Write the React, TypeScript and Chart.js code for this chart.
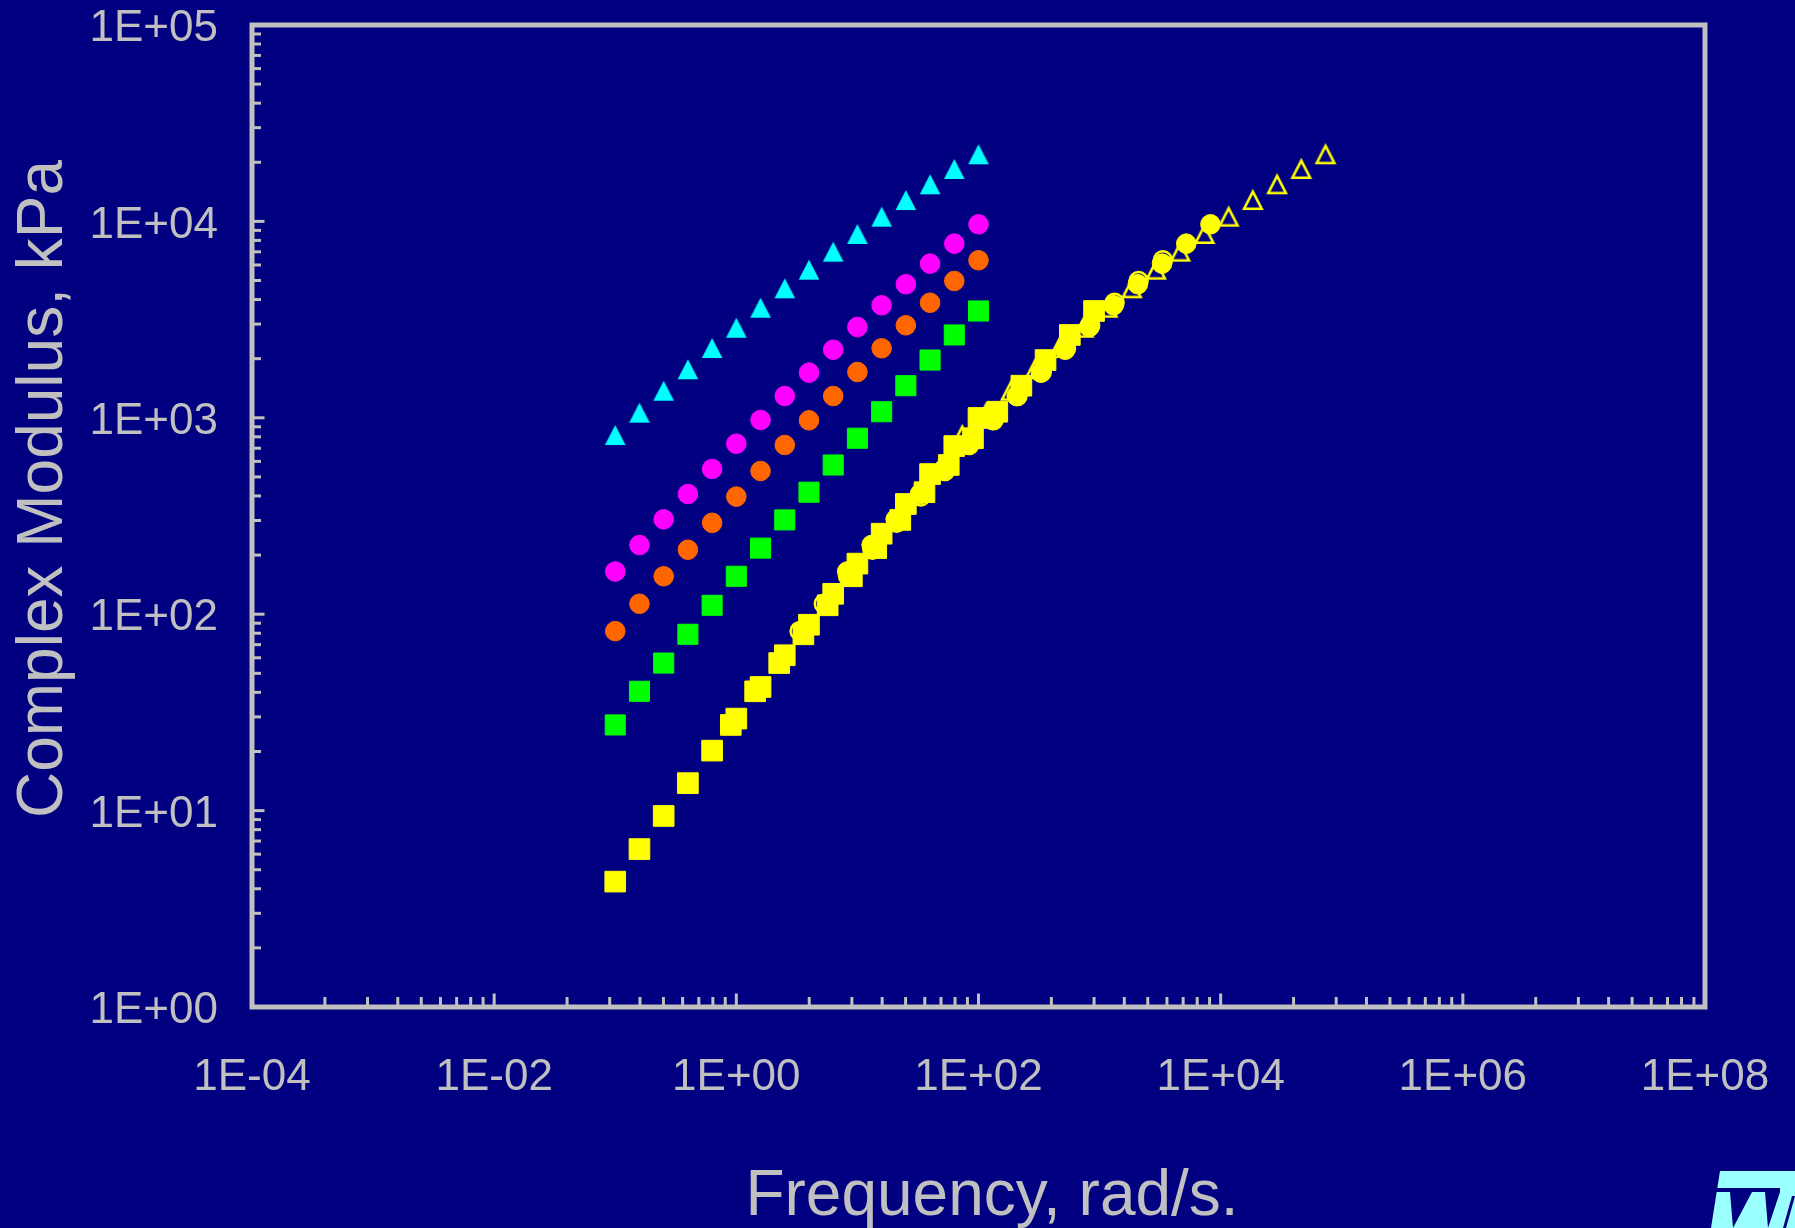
import React, { useEffect, useRef } from 'react';
import { Chart, registerables } from 'chart.js';

Chart.register(...registerables);

// ---- data ----
const FREQ = [0.1, 0.1585, 0.2512, 0.3981, 0.631, 1, 1.585, 2.512, 3.981, 6.31, 10, 15.85, 25.12, 39.81, 63.1, 100];

const CYAN_Y = [817, 1062, 1374, 1766, 2266, 2876, 3636, 4564, 5678, 7012, 8630, 10570, 12850, 15450, 18490, 21970];
const MAGENTA_Y = [165, 225, 304, 409, 549, 738, 975, 1291, 1698, 2222, 2899, 3740, 4786, 6093, 7705, 9663];
const ORANGE_Y = [82, 113, 156, 213, 292, 397, 536, 727, 971, 1291, 1711, 2259, 2958, 3855, 4974, 6340];
const GREEN_Y = [27.3, 40.5, 56.4, 79, 111, 156, 217, 302, 418, 575, 787, 1074, 1457, 1968, 2641, 3498];
const REF_Y = [4.35, 6.37, 9.39, 13.8, 20.2, 29.4, 42.6, 61.8, 88.4, 127, 181, 257, 364, 517, 718, 998];

const GREEN_SHIFTED_X = [0.9, 1.43, 2.26, 3.58, 5.68, 9.0, 14.3, 22.6, 35.8, 56.8, 90, 143, 226, 358, 568, 900];
const ORANGE_SHIFTED_X = [3.33, 5.28, 8.37, 13.3, 21.0, 33.3, 52.8, 83.7, 133, 210, 333, 528, 837, 1330, 2100, 3330];
const MAGENTA_SHIFTED_X = [8.24, 13.1, 20.7, 32.8, 52.0, 82.4, 131, 207, 328, 520, 824, 1306, 2070, 3280, 5200, 8240];
const CYAN_SHIFTED_X = [73.5, 116, 185, 292, 463, 735, 1164, 1845, 2924, 4634, 7345, 11640, 18450, 29240, 46340, 73450];

const X_TICKS = [1e-4, 1e-2, 1, 1e2, 1e4, 1e6, 1e8];
const Y_TICKS = [1, 10, 100, 1e3, 1e4, 1e5];
const X_MINOR = [4, 9, 16, 25, 36, 49, 64, 81];
const Y_MINOR = [2, 3, 4, 5, 6, 7, 8, 9];

const X_TITLE = 'Frequency, rad/s.';
const Y_TITLE = 'Complex Modulus, kPa';

const BG = '#000080';
const GRAY = '#C0C0C0';
const FONT = "'Liberation Sans', Arial, sans-serif";

const zip = (xs: number[], ys: number[]) => xs.map((x, i) => ({ x, y: ys[i] }));

const fmt = (v: number) => {
  const e = Math.round(Math.log10(v));
  return '1E' + (e < 0 ? '-' : '+') + String(Math.abs(e)).padStart(2, '0');
};

function triangleImage(color: string, filled: boolean): HTMLCanvasElement {
  const c = document.createElement('canvas');
  c.width = 24;
  c.height = 24;
  const g = c.getContext('2d')!;
  g.beginPath();
  if (filled) {
    g.moveTo(12, 2);
    g.lineTo(22.3, 22);
    g.lineTo(1.7, 22);
    g.closePath();
    g.fillStyle = color;
    g.fill();
  } else {
    g.moveTo(12, 3.6);
    g.lineTo(20.8, 20.7);
    g.lineTo(3.2, 20.7);
    g.closePath();
    g.lineWidth = 2.6;
    g.lineJoin = 'miter';
    g.strokeStyle = color;
    g.stroke();
  }
  return c;
}

const zeroPadding = (s: any) => {
  s.paddingTop = 0;
  s.paddingBottom = 0;
  s.paddingLeft = 0;
  s.paddingRight = 0;
};

const framePlugin = {
  id: 'frame',
  afterDatasetsDraw(chart: any) {
    const { ctx, chartArea: a, scales } = chart;
    const xs = scales.x;
    const ys = scales.y;
    const line = (x1: number, y1: number, x2: number, y2: number) => {
      ctx.beginPath();
      ctx.moveTo(x1, y1);
      ctx.lineTo(x2, y2);
      ctx.stroke();
    };
    ctx.save();
    ctx.strokeStyle = GRAY;
    ctx.lineWidth = 3;
    ctx.lineCap = 'butt';
    for (let i = 0; i < Y_TICKS.length - 1; i++) {
      const base = Y_TICKS[i];
      for (const m of Y_MINOR) {
        const py = ys.getPixelForValue(base * m);
        line(a.left, py, a.left + 9, py);
      }
      if (i > 0) {
        const py = ys.getPixelForValue(base);
        line(a.left, py, a.left + 12.5, py);
      }
    }
    for (let i = 0; i < X_TICKS.length - 1; i++) {
      const base = X_TICKS[i];
      for (const m of X_MINOR) {
        const px = xs.getPixelForValue(base * m);
        line(px, a.bottom, px, a.bottom - 10);
      }
      if (i > 0) {
        const px = xs.getPixelForValue(base);
        line(px, a.bottom, px, a.bottom - 13.5);
      }
    }
    ctx.lineWidth = 5;
    ctx.lineJoin = 'miter';
    ctx.strokeRect(a.left, a.top, a.right - a.left, a.bottom - a.top);
    ctx.restore();
  },
  afterDraw(chart: any) {
    const { ctx } = chart;
    ctx.save();
    ctx.fillStyle = GRAY;
    ctx.font = `64px ${FONT}`;
    ctx.textAlign = 'center';
    ctx.textBaseline = 'alphabetic';
    ctx.fillText(X_TITLE, 992, 1215);
    ctx.translate(62, 489);
    ctx.rotate(-Math.PI / 2);
    ctx.fillText(Y_TITLE, 0, 0);
    ctx.restore();

    // logo fragment in the lower right corner
    ctx.save();
    ctx.fillStyle = '#99FFFF';
    ctx.beginPath();
    ctx.moveTo(1720, 1171);
    ctx.lineTo(1795, 1171);
    ctx.lineTo(1795, 1228);
    ctx.lineTo(1711, 1228);
    ctx.closePath();
    ctx.fill();
    ctx.fillStyle = BG;
    ctx.fillRect(1715, 1188, 65, 4);
    ctx.beginPath();
    ctx.moveTo(1730, 1192);
    ctx.lineTo(1752, 1192);
    ctx.lineTo(1733, 1228);
    ctx.closePath();
    ctx.fill();
    ctx.beginPath();
    ctx.moveTo(1765, 1192);
    ctx.lineTo(1780, 1192);
    ctx.lineTo(1768, 1228);
    ctx.closePath();
    ctx.fill();
    ctx.beginPath();
    ctx.moveTo(1792, 1196);
    ctx.lineTo(1795, 1196);
    ctx.lineTo(1786, 1228);
    ctx.lineTo(1783, 1228);
    ctx.closePath();
    ctx.fill();
    ctx.restore();
  },
};

export default function App() {
  const ref = useRef<HTMLCanvasElement>(null);

  useEffect(() => {
    const cyanTri = triangleImage('#00FFFF', true);
    const yellowTri = triangleImage('#FFFF00', false);

    const chart = new Chart(ref.current!, {
      type: 'scatter',
      data: {
        datasets: [
          {
            label: 'Shifted magenta',
            data: zip(MAGENTA_SHIFTED_X, MAGENTA_Y),
            pointStyle: 'circle',
            pointRadius: 9.8,
            borderWidth: 1,
            backgroundColor: '#FFFF00',
            borderColor: '#FFFF00',
            order: 0,
          },
          {
            label: 'Shifted green',
            data: zip(GREEN_SHIFTED_X, GREEN_Y),
            pointStyle: 'rect',
            pointRadius: 14.6,
            borderWidth: 1,
            backgroundColor: '#FFFF00',
            borderColor: '#FFFF00',
            order: 1,
          },
          {
            label: 'Reference',
            data: zip(FREQ, REF_Y),
            pointStyle: 'rect',
            pointRadius: 14.6,
            borderWidth: 1,
            backgroundColor: '#FFFF00',
            borderColor: '#FFFF00',
            order: 2,
          },
          {
            label: 'Shifted orange',
            data: zip(ORANGE_SHIFTED_X, ORANGE_Y),
            pointStyle: 'circle',
            pointRadius: 9,
            borderWidth: 2.5,
            backgroundColor: 'rgba(0,0,0,0)',
            borderColor: '#FFFF00',
            order: 3,
          },
          {
            label: 'Shifted cyan',
            data: zip(CYAN_SHIFTED_X, CYAN_Y),
            pointStyle: yellowTri,
            pointRadius: 10,
            order: 4,
          },
          {
            label: 'Cyan',
            data: zip(FREQ, CYAN_Y),
            pointStyle: cyanTri,
            pointRadius: 10,
            order: 5,
          },
          {
            label: 'Magenta',
            data: zip(FREQ, MAGENTA_Y),
            pointStyle: 'circle',
            pointRadius: 9.8,
            borderWidth: 1,
            backgroundColor: '#FF00FF',
            borderColor: '#FF00FF',
            order: 6,
          },
          {
            label: 'Orange',
            data: zip(FREQ, ORANGE_Y),
            pointStyle: 'circle',
            pointRadius: 9.8,
            borderWidth: 1,
            backgroundColor: '#FF6600',
            borderColor: '#FF6600',
            order: 7,
          },
          {
            label: 'Green',
            data: zip(FREQ, GREEN_Y),
            pointStyle: 'rect',
            pointRadius: 14.2,
            borderWidth: 1,
            backgroundColor: '#00FF00',
            borderColor: '#00FF00',
            order: 8,
          },
        ],
      },
      options: {
        responsive: false,
        animation: false,
        events: [],
        layout: { padding: { top: 25, right: 90, bottom: 0, left: 0 } },
        plugins: {
          legend: { display: false },
          tooltip: { enabled: false },
        },
        scales: {
          x: {
            type: 'logarithmic',
            position: 'bottom',
            min: 1e-4,
            max: 1e8,
            afterBuildTicks: (s: any) => {
              s.ticks = X_TICKS.map((v) => ({ value: v }));
            },
            afterFit: (s: any) => {
              s.height = 221;
              zeroPadding(s);
            },
            ticks: {
              color: GRAY,
              font: { family: FONT, size: 44, lineHeight: 1 },
              padding: 49,
              autoSkip: false,
              maxRotation: 0,
              minRotation: 0,
              callback: (v: any) => fmt(Number(v)),
            },
            grid: { display: false, drawTicks: false },
            border: { display: false },
          },
          y: {
            type: 'logarithmic',
            position: 'left',
            min: 1,
            max: 1e5,
            afterBuildTicks: (s: any) => {
              s.ticks = Y_TICKS.map((v) => ({ value: v }));
            },
            afterFit: (s: any) => {
              s.width = 252;
              zeroPadding(s);
            },
            ticks: {
              color: GRAY,
              font: { family: FONT, size: 44, lineHeight: 1 },
              padding: 34,
              labelOffset: 4,
              autoSkip: false,
              callback: (v: any) => fmt(Number(v)),
            },
            grid: { display: false, drawTicks: false },
            border: { display: false },
          },
        },
      },
      plugins: [framePlugin],
    } as any);

    return () => chart.destroy();
  }, []);

  return (
    <div
      style={{
        position: 'fixed',
        left: 0,
        top: 0,
        width: 1795,
        height: 1228,
        background: BG,
        overflow: 'hidden',
      }}
    >
      <canvas ref={ref} width={1795} height={1228} style={{ display: 'block' }} />
    </div>
  );
}
